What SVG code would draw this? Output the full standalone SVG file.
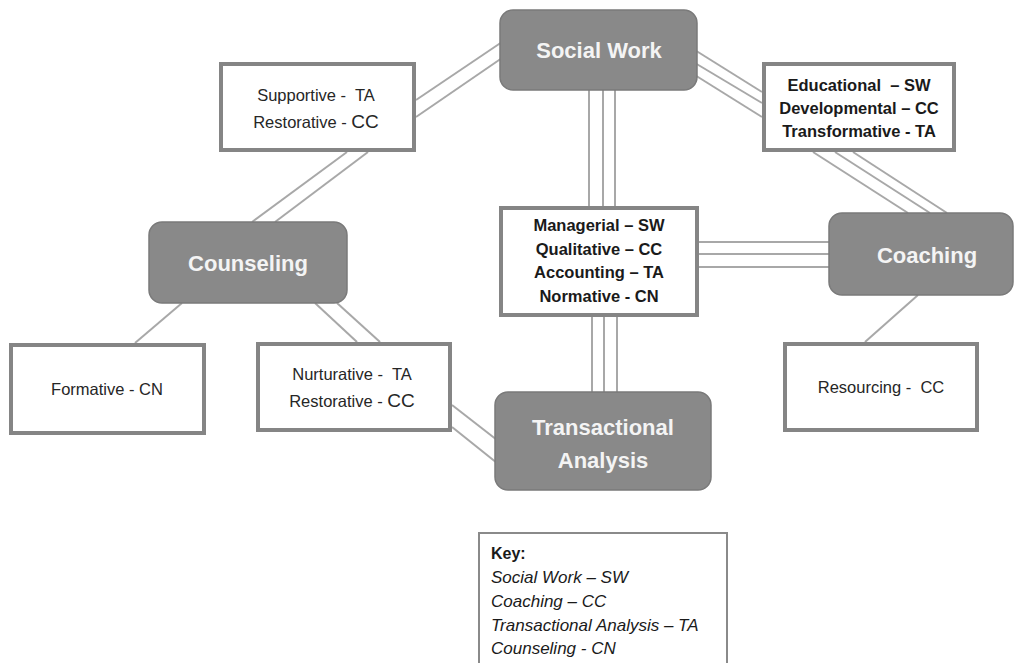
<svg xmlns="http://www.w3.org/2000/svg" width="1015" height="663" viewBox="0 0 1015 663">
<style>
text{white-space:pre}
.hub{fill:#898989;stroke:#7a7a7a;stroke-width:1.5}
.hubt{fill:#f4f4f4;font-family:"Liberation Sans",Arial,sans-serif;font-weight:bold;font-size:22px;text-anchor:middle}
.box{fill:#fff;stroke:#858585;stroke-width:4}
.bt{fill:#262626;font-family:"Liberation Sans",Arial,sans-serif;font-size:16.5px;text-anchor:middle}
.bb{fill:#1a1a1a;font-family:"Liberation Sans",Arial,sans-serif;font-size:16.5px;font-weight:bold;text-anchor:middle}
.kt{fill:#1a1a1a;font-family:"Liberation Sans",Arial,sans-serif;font-size:17px;font-style:italic}
.c{stroke:#a8a8a8;stroke-width:2;fill:none}
</style>
<rect width="1015" height="663" fill="#fff"/>
<g id="connectors">
<line class="c" x1="416" y1="100" x2="502" y2="42"/>
<line class="c" x1="416" y1="117" x2="502" y2="58"/>
<line class="c" x1="347" y1="152" x2="252" y2="222"/>
<line class="c" x1="368" y1="152" x2="275" y2="222"/>
<line class="c" x1="182" y1="303" x2="135" y2="343"/>
<line class="c" x1="315" y1="303" x2="357" y2="342"/>
<line class="c" x1="337" y1="303" x2="380" y2="342"/>
<line class="c" x1="452" y1="405" x2="497" y2="440"/>
<line class="c" x1="452" y1="427" x2="497" y2="463"/>
<line class="c" x1="589" y1="90" x2="589" y2="207"/>
<line class="c" x1="603" y1="90" x2="603" y2="207"/>
<line class="c" x1="615" y1="90" x2="615" y2="207"/>
<line class="c" x1="592" y1="316" x2="592" y2="392"/>
<line class="c" x1="604" y1="316" x2="604" y2="392"/>
<line class="c" x1="617" y1="316" x2="617" y2="392"/>
<line class="c" x1="698" y1="242" x2="829" y2="242"/>
<line class="c" x1="698" y1="254" x2="829" y2="254"/>
<line class="c" x1="698" y1="267" x2="829" y2="267"/>
<line class="c" x1="690" y1="47" x2="762" y2="92"/>
<line class="c" x1="690" y1="60" x2="762" y2="103"/>
<line class="c" x1="690" y1="72" x2="762" y2="117"/>
<line class="c" x1="813" y1="152" x2="908" y2="213"/>
<line class="c" x1="835" y1="152" x2="930" y2="213"/>
<line class="c" x1="853" y1="152" x2="947" y2="213"/>
<line class="c" x1="918" y1="295" x2="865" y2="342"/>
</g>
<g id="social-work">
<rect class="hub" x="500" y="10" width="197" height="80" rx="13"/>
<text class="hubt" x="599" y="58">Social Work</text>
</g>
<g id="counseling">
<rect class="hub" x="149" y="222" width="198" height="81" rx="13"/>
<text class="hubt" x="248" y="271">Counseling</text>
</g>
<g id="coaching">
<rect class="hub" x="829" y="213" width="184" height="82" rx="13"/>
<text class="hubt" x="927" y="263">Coaching</text>
</g>
<g id="transactional-analysis">
<rect class="hub" x="495" y="392" width="216" height="98" rx="13"/>
<text class="hubt" x="603" y="435">Transactional</text>
<text class="hubt" x="603" y="468">Analysis</text>
</g>
<g id="supportive">
<rect class="box" x="221" y="64" width="193" height="86"/>
<text class="bt" x="316" y="101">Supportive -  TA</text>
<text class="bt" x="316" y="128">Restorative - <tspan font-size="19">CC</tspan></text>
</g>
<g id="educational">
<rect class="box" x="764" y="64" width="190" height="86"/>
<text class="bb" x="859" y="91">Educational  – SW</text>
<text class="bb" x="859" y="114">Developmental – CC</text>
<text class="bb" x="859" y="137">Transformative - TA</text>
</g>
<g id="managerial">
<rect class="box" x="501" y="208" width="196" height="107" stroke-width="3"/>
<text class="bb" x="599" y="231">Managerial – SW</text>
<text class="bb" x="599" y="255">Qualitative – CC</text>
<text class="bb" x="599" y="278">Accounting – TA</text>
<text class="bb" x="599" y="302">Normative - CN</text>
</g>
<g id="formative">
<rect class="box" x="11" y="345" width="193" height="88"/>
<text class="bt" x="107" y="395">Formative - CN</text>
</g>
<g id="nurturative">
<rect class="box" x="258" y="344" width="192" height="86"/>
<text class="bt" x="352" y="380">Nurturative -  TA</text>
<text class="bt" x="352" y="407">Restorative - <tspan font-size="19">CC</tspan></text>
</g>
<g id="resourcing">
<rect class="box" x="785" y="344" width="192" height="86"/>
<text class="bt" x="881" y="393">Resourcing -  CC</text>
</g>
<g id="key">
<rect x="479" y="533" width="248" height="140" fill="#fff" stroke="#8a8a8a" stroke-width="2"/>
<text x="491" y="559" fill="#1a1a1a" font-family="Liberation Sans,Arial,sans-serif" font-size="16" font-weight="bold">Key:</text>
<text class="kt" x="491" y="583">Social Work – SW</text>
<text class="kt" x="491" y="607">Coaching – CC</text>
<text class="kt" x="491" y="631">Transactional Analysis – TA</text>
<text class="kt" x="491" y="654">Counseling - CN</text>
</g>
</svg>
